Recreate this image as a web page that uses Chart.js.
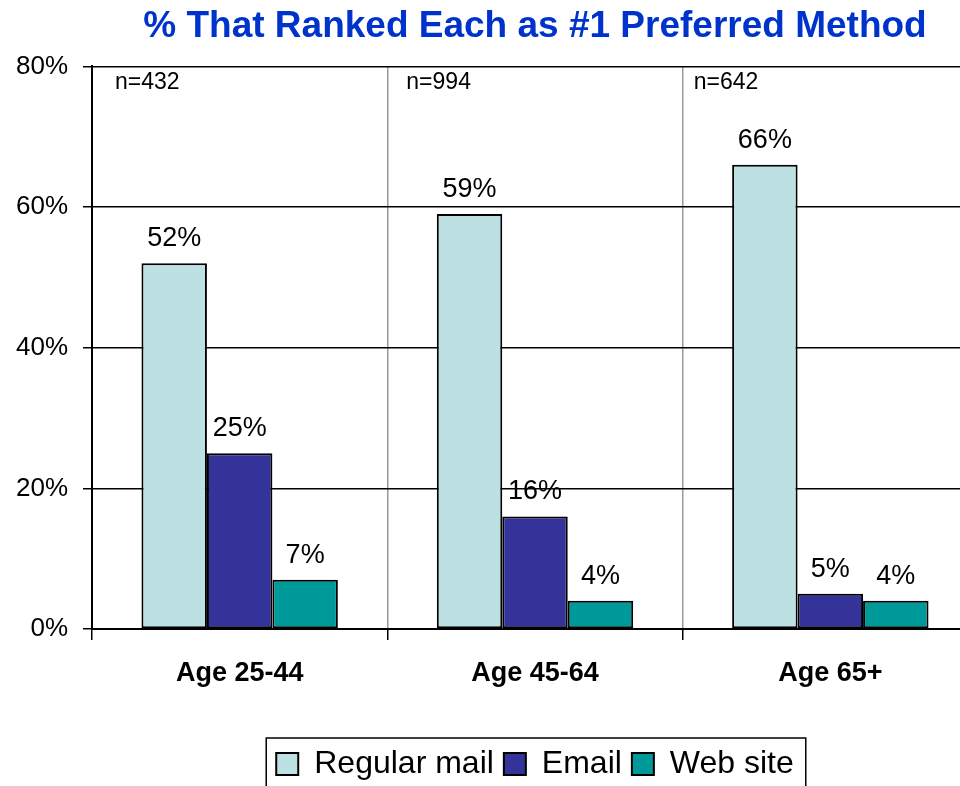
<!DOCTYPE html>
<html>
<head>
<meta charset="utf-8">
<script src="https://cdn.jsdelivr.net/npm/chart.js@4/dist/chart.umd.min.js"></script>
<style>
  html, body { margin: 0; padding: 0; background: #fff; overflow: hidden; }
  #wrap { width: 960px; height: 786px; overflow: hidden; }
</style>
</head>
<body>
<div id="wrap"><canvas id="prefChart" width="980" height="790"></canvas></div>
<script>
const ageGroups = ['Age 25-44', 'Age 45-64', 'Age 65+'];
const sampleSizes = ['n=432', 'n=994', 'n=642'];
const regularMail = [52, 59, 66];
const email = [25, 16, 5];
const webSite = [7, 4, 4];
const yTicks = [0, 20, 40, 60, 80];

const FONT = '"Liberation Sans", Arial, sans-serif';
const nOffsets = [23, 19, 11];

// value labels above each bar, sample sizes in the top-left of each group
const barLabels = {
  id: 'barLabels',
  afterDatasetsDraw(chart) {
    const ctx = chart.ctx;
    ctx.save();
    ctx.fillStyle = '#000';
    ctx.font = '27px ' + FONT;
    ctx.textAlign = 'center';
    ctx.textBaseline = 'alphabetic';
    chart.data.datasets.forEach((ds, di) => {
      chart.getDatasetMeta(di).data.forEach((bar, i) => {
        ctx.fillText(ds.data[i] + '%', bar.x, bar.y - 17);
      });
    });
    const x = chart.scales.x;
    const w = x.width / ageGroups.length;
    ctx.font = '23px ' + FONT;
    ctx.textAlign = 'left';
    sampleSizes.forEach((s, i) => {
      ctx.fillText(s, x.left + i * w + nOffsets[i], chart.chartArea.top + 23);
    });
    ctx.restore();
  },
  afterDraw(chart) {
    const boxes = chart.legend.legendHitBoxes;
    if (!boxes || !boxes.length) return;
    const first = boxes[0], last = boxes[boxes.length - 1];
    const ctx = chart.ctx;
    ctx.save();
    ctx.strokeStyle = '#000';
    ctx.lineWidth = 1.5;
    const l = first.left - 10, r = last.left + last.width + 12;
    ctx.strokeRect(l, chart.legend.top, r - l, chart.legend.height + 10);
    ctx.restore();
  }
};

new Chart(document.getElementById('prefChart'), {
  type: 'bar',
  data: {
    labels: ageGroups,
    datasets: [
      { label: 'Regular mail', data: regularMail, backgroundColor: '#BDE1E3' },
      { label: 'Email', data: email, backgroundColor: '#333399' },
      { label: 'Web site', data: webSite, backgroundColor: '#009999' }
    ].map(d => Object.assign(d, {
      borderColor: '#000',
      borderWidth: 2,
      borderSkipped: false,
      categoryPercentage: 0.665,
      barPercentage: 1
    }))
  },
  options: {
    responsive: false,
    animation: false,
    devicePixelRatio: 1,
    layout: { padding: { left: 0, right: 2, top: 0, bottom: 0 } },
    plugins: {
      title: {
        display: true,
        fullSize: false,
        text: '% That Ranked Each as #1 Preferred Method',
        color: '#0033CC',
        font: { family: FONT, size: 37, weight: 'bold' },
        padding: { top: 5, bottom: 17 }
      },
      legend: {
        position: 'bottom',
        fullSize: false,
        labels: {
          color: '#000',
          font: { family: FONT, size: 32 },
          boxWidth: 22,
          boxHeight: 22,
          padding: 10
        }
      },
      tooltip: { enabled: false }
    },
    scales: {
      x: {
        afterFit(s) { s.height = 109; },
        grid: {
          color: c => c.index === 0 ? '#000' : '#999',
          lineWidth: 1.5,
          tickColor: '#000',
          tickLength: 11,
          offset: true
        },
        border: { color: '#000', width: 2 },
        ticks: {
          color: '#000',
          font: { family: FONT, size: 27, weight: 'bold' },
          padding: 17,
          maxRotation: 0
        }
      },
      y: {
        min: 0,
        max: 80,
        afterFit(s) { s.width = 92; },
        afterBuildTicks(s) { s.ticks = yTicks.map(v => ({ value: v })); },
        grid: {
          color: '#000',
          lineWidth: 1.5,
          tickColor: '#000',
          tickLength: 9
        },
        border: { color: '#000', width: 2 },
        ticks: {
          color: '#000',
          font: { family: FONT, size: 26 },
          padding: 15,
          callback: v => v + '%'
        }
      }
    }
  },
  plugins: [barLabels]
});
</script>
</body>
</html>
